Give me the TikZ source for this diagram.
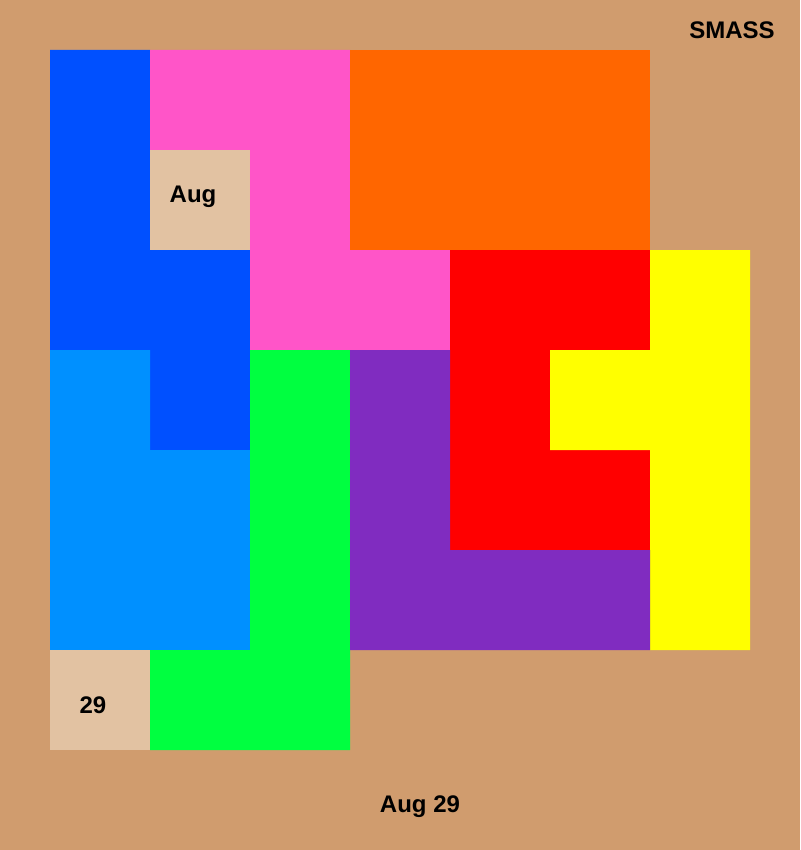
\documentclass[tikz,border=0pt]{standalone}
\usepackage{fontspec}
\setmainfont{Liberation Sans}
\definecolor{bg}{RGB}{208,156,110}
\definecolor{dblue}{RGB}{0,80,255}
\definecolor{lblue}{RGB}{0,144,255}
\definecolor{pinkc}{RGB}{255,85,200}
\definecolor{orangec}{RGB}{255,102,0}
\definecolor{redc}{RGB}{255,0,0}
\definecolor{yellowc}{RGB}{255,255,0}
\definecolor{greenc}{RGB}{0,255,64}
\definecolor{purplec}{RGB}{128,44,192}
\definecolor{tanc}{RGB}{226,194,162}
\tikzset{
  lbl/.style={font=\fontsize{24}{28}\selectfont\bfseries, text=black, inner sep=0pt},
  piece/.style={draw=none}
}
\begin{document}
\begin{tikzpicture}[x=1pt,y=-1pt]
\fill[bg] (0,0) rectangle (800,850);
\useasboundingbox (0,0) rectangle (800,850);
\fill[dblue] (50,50)--(150,50)--(150,250)--(250,250)--(250,450)--(150,450)--(150,350)--(50,350)--cycle;
\fill[pinkc] (150,50)--(350,50)--(350,250)--(450,250)--(450,350)--(250,350)--(250,150)--(150,150)--cycle;
\fill[orangec] (350,50) rectangle (650,250);
\fill[tanc] (150,150) rectangle (250,250);
\fill[redc] (450,250)--(650,250)--(650,350)--(550,350)--(550,450)--(650,450)--(650,550)--(450,550)--cycle;
\fill[yellowc] (650,250)--(750,250)--(750,650)--(650,650)--(650,450)--(550,450)--(550,350)--(650,350)--cycle;
\fill[lblue] (50,350)--(150,350)--(150,450)--(250,450)--(250,650)--(50,650)--cycle;
\fill[greenc] (250,350)--(350,350)--(350,750)--(150,750)--(150,650)--(250,650)--cycle;
\fill[purplec] (350,350)--(450,350)--(450,550)--(650,550)--(650,650)--(350,650)--cycle;
\fill[tanc] (50,650) rectangle (150,750);
\node[lbl] (aug) at (193,197) {Aug};
\node[lbl] (day) at (93,705) {29};
\node[lbl] (title) at (732,30) {SMASS};
\node[lbl] (date) at (420,807) {Aug 29};
\end{tikzpicture}
\end{document}
